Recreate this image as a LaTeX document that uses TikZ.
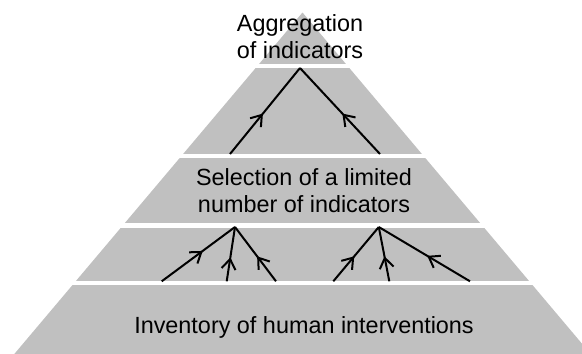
\documentclass[tikz,border=0pt]{standalone}
\usepackage{fontspec}
\setmainfont{Liberation Sans}
\usetikzlibrary{arrows.meta,decorations.markings}
\definecolor{pyrgray}{RGB}{192,192,192}
\tikzset{
  band/.style={fill=pyrgray, draw=none},
  gapstrip/.style={fill=white, draw=none},
  lbl/.style={align=center, inner sep=0pt, font=\fontsize{23.4}{27.5}\selectfont},
  flow/.style={line width=2pt, line cap=butt, postaction={decorate},
    decoration={markings, mark=at position #1 with {\arrow{Straight Barb[length=10pt,width=14pt,line width=2pt]}}}},
  flow/.default=0.47,
}
\begin{document}
\begin{tikzpicture}[x=1pt,y=-1pt]
\useasboundingbox (0,0) rectangle (582,354);
% pyramid
\fill[band] (302.5,12.5) -- (582,343.7) -- (582,354) -- (14.3,354) -- cycle;
% white gaps between layers
\fill[gapstrip] (0,64) rectangle (582,68);
\fill[gapstrip] (0,154.3) rectangle (582,158);
\fill[gapstrip] (0,223.3) rectangle (582,227.5);
\fill[gapstrip] (0,281.3) rectangle (582,285);
% labels
\node[lbl] (agg) at (300,36.5) {Aggregation\\of indicators};
\node[lbl] (sel) at (304,190.5) {Selection of a limited\\number of indicators};
\node[lbl] (inv) at (304,327) {Inventory of human interventions};
% connector points
\coordinate (t0) at (300,68);
\coordinate (t1) at (230,154);
\coordinate (t2) at (380,154);
\coordinate (a0) at (235,227);
\coordinate (a1) at (161.7,281.3);
\coordinate (a2) at (226.7,281.3);
\coordinate (a3) at (276,281.3);
\coordinate (b0) at (378.8,227);
\coordinate (b1) at (333.3,281.3);
\coordinate (b2) at (389.3,281.3);
\coordinate (b3) at (470,281.3);
% connectors
\draw[flow] (t1) -- (t0);
\draw[flow] (t2) -- (t0);
\draw[flow=0.56] (a1) -- (a0);
\draw[flow=0.44] (a2) -- (a0);
\draw[flow=0.46] (a3) -- (a0);
\draw[flow=0.46] (b1) -- (b0);
\draw[flow=0.46] (b2) -- (b0);
\draw[flow=0.47] (b3) -- (b0);
\end{tikzpicture}
\end{document}
